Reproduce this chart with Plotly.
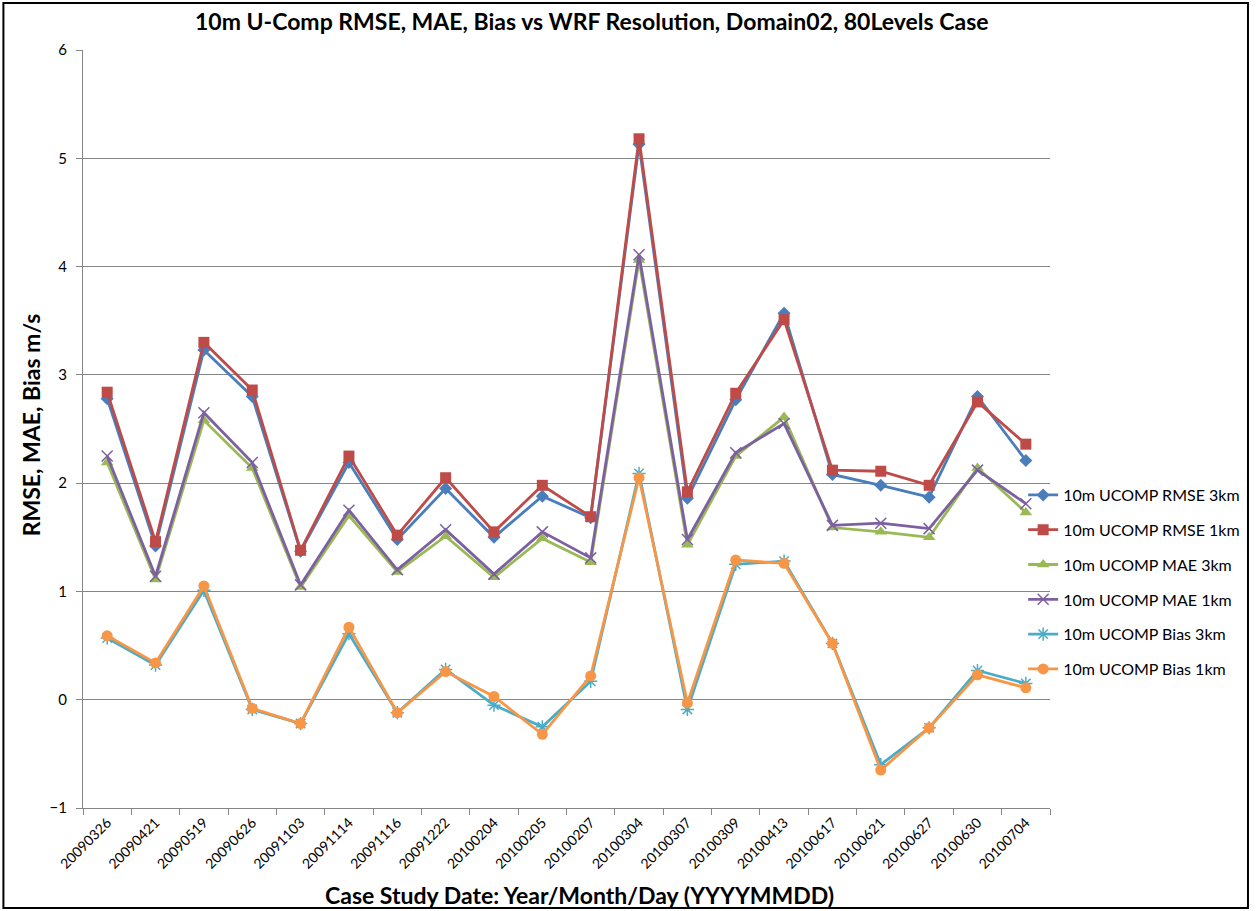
import plotly.graph_objects as go

# Case study dates (YYYYMMDD)
dates = ["20090326", "20090421", "20090519", "20090626", "20091103",
         "20091114", "20091116", "20091222", "20100204", "20100205",
         "20100207", "20100304", "20100307", "20100309", "20100413",
         "20100617", "20100621", "20100627", "20100630", "20100704"]

rmse_3km = [2.78, 1.42, 3.23, 2.80, 1.37, 2.19, 1.48, 1.95, 1.50, 1.88,
            1.68, 5.13, 1.86, 2.77, 3.57, 2.08, 1.98, 1.87, 2.80, 2.21]
rmse_1km = [2.84, 1.46, 3.30, 2.86, 1.38, 2.25, 1.52, 2.05, 1.55, 1.98,
            1.69, 5.18, 1.92, 2.83, 3.51, 2.12, 2.11, 1.98, 2.75, 2.36]
mae_3km = [2.19, 1.11, 2.58, 2.14, 1.04, 1.70, 1.18, 1.51, 1.13, 1.49,
           1.27, 4.06, 1.43, 2.25, 2.61, 1.59, 1.55, 1.50, 2.14, 1.73]
mae_1km = [2.25, 1.14, 2.65, 2.19, 1.06, 1.75, 1.20, 1.57, 1.16, 1.55,
           1.31, 4.11, 1.48, 2.28, 2.55, 1.61, 1.63, 1.58, 2.12, 1.81]
bias_3km = [0.57, 0.32, 1.01, -0.09, -0.22, 0.61, -0.12, 0.28, -0.05, -0.25,
            0.17, 2.09, -0.09, 1.25, 1.28, 0.52, -0.60, -0.26, 0.27, 0.15]
bias_1km = [0.59, 0.34, 1.05, -0.08, -0.22, 0.67, -0.12, 0.26, 0.03, -0.32,
            0.22, 2.05, -0.03, 1.29, 1.26, 0.52, -0.65, -0.26, 0.23, 0.11]

y_ticks = [-1, 0, 1, 2, 3, 4, 5, 6]

FONT = "Lato, Noto Sans, sans-serif"

series = [
    ("10m UCOMP RMSE 3km", rmse_3km, "#4A7EBB", "diamond", 10, 0),
    ("10m UCOMP RMSE 1km", rmse_1km, "#BE4B48", "square", 11, 0),
    ("10m UCOMP MAE 3km", mae_3km, "#98B954", "triangle-up", 11, 0),
    ("10m UCOMP MAE 1km", mae_1km, "#7D60A0", "x-thin-open", 11, 1.5),
    ("10m UCOMP Bias 3km", bias_3km, "#4BACC6", "asterisk-open", 11, 1.5),
    ("10m UCOMP Bias 1km", bias_1km, "#F79646", "circle", 11, 0),
]

fig = go.Figure()
for i, (name, vals, color, symbol, size, mlw) in enumerate(series):
    fig.add_trace(go.Scatter(
        x=dates, y=vals, name=name, mode="lines+markers",
        legendgroup=f"g{i}",
        line=dict(color=color, width=2.8),
        marker=dict(symbol=symbol, size=size, color=color,
                    line=dict(color=color, width=mlw)),
    ))

# plot area: x 83..1055 px, y 50..808 px
L, R, T, B = 83, 1055, 50, 808
W, H = 1257, 911
pw, ph = R - L, B - T


def px_x(x):
    return (x - L) / pw


def px_y(y):
    return (B - y) / ph


fig.update_layout(
    width=W, height=H,
    margin=dict(l=L, r=W - R, t=T, b=H - B),
    paper_bgcolor="white", plot_bgcolor="white",
    font=dict(family=FONT, color="#000000"),
    showlegend=True,
    legend=dict(
        x=px_x(1028), y=px_y(478), xanchor="left", yanchor="top",
        font=dict(size=16, family=FONT), tracegroupgap=11,
        bgcolor="rgba(0,0,0,0)", itemwidth=30,
    ),
    xaxis=dict(
        type="category", range=[-0.5, len(dates) - 0.5],
        showgrid=False, showline=True, linecolor="#868686", linewidth=1,
        ticks="outside", tickson="boundaries", ticklen=6, tickcolor="#868686",
        tickangle=-45, tickfont=dict(size=14, family=FONT),
    ),
    yaxis=dict(
        range=[-1, 6], tickvals=y_ticks, showgrid=True,
        gridcolor="#868686", gridwidth=1, zeroline=False,
        showline=True, linecolor="#868686", linewidth=1,
        ticks="outside", ticklen=6, tickcolor="#868686",
        tickfont=dict(size=15, family=FONT), ticklabelstandoff=6,
    ),
    annotations=[
        dict(text="<b>10m U-Comp RMSE, MAE, Bias vs WRF Resolution, Domain02, 80Levels Case</b>",
             x=px_x(595), y=px_y(21), xref="paper", yref="paper",
             xanchor="center", yanchor="middle", showarrow=False,
             font=dict(size=23, family=FONT)),
        dict(text="<b>Case Study Date: Year/Month/Day (YYYYMMDD)</b>",
             x=px_x(582), y=px_y(895), xref="paper", yref="paper",
             xanchor="center", yanchor="middle", showarrow=False,
             font=dict(size=23, family=FONT)),
        dict(text="<b>RMSE, MAE, Bias m/s</b>", textangle=-90,
             x=px_x(31), y=px_y(425), xref="paper", yref="paper",
             xanchor="center", yanchor="middle", showarrow=False,
             font=dict(size=23, family=FONT)),
    ],
    shapes=[
        dict(type="rect", xref="paper", yref="paper",
             x0=px_x(3), x1=px_x(1254), y0=px_y(908), y1=px_y(3),
             line=dict(color="black", width=2), fillcolor="rgba(0,0,0,0)",
             layer="below"),
    ],
)

fig.write_html("out.html")
